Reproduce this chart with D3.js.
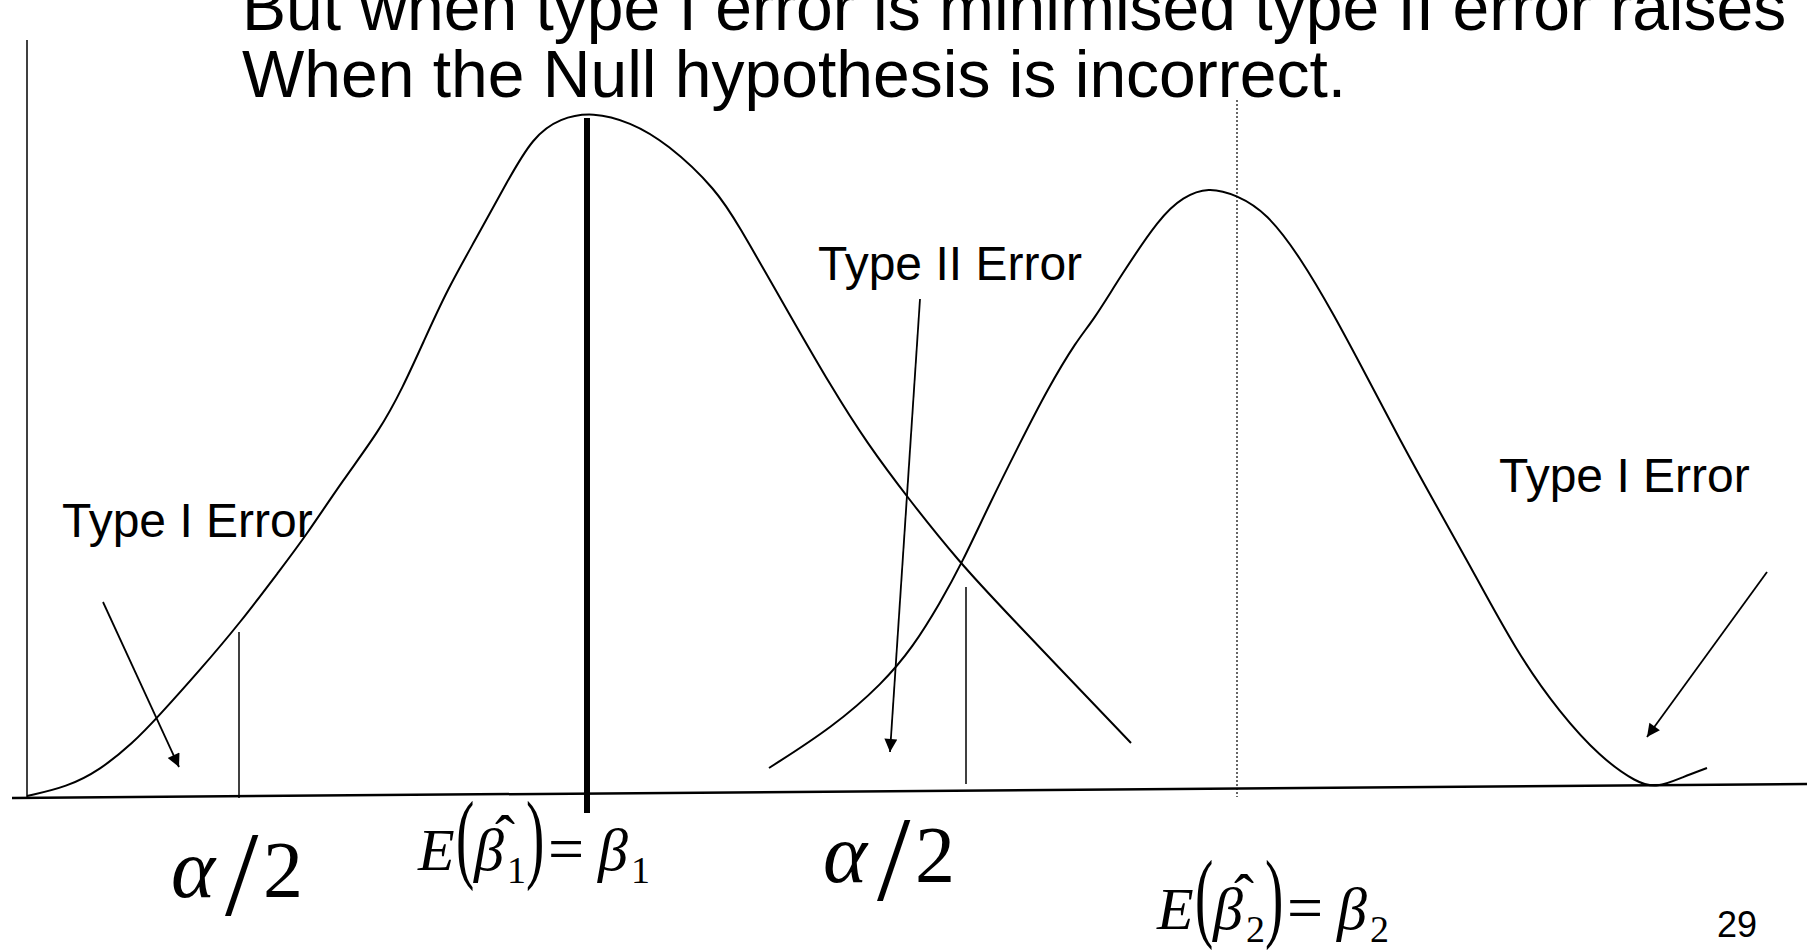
<!DOCTYPE html>
<html>
<head>
<meta charset="utf-8">
<script src="https://cdn.jsdelivr.net/npm/d3@7"></script>
<style>
  body { margin: 0; background: #ffffff; overflow: hidden; }
</style>
</head>
<body>
<div id="my_dataviz"></div>
<script>
// sampled outlines of the two sampling distributions (slide units)
const nullCurve = [
  [27, 796], [67, 787], [100, 770], [133, 743], [157, 718], [200, 670], [240, 623],
  [280, 570], [305, 537], [343, 480], [380, 430], [403, 387], [423, 343], [447, 290],
  [477, 237], [508, 180], [533, 137], [560, 118], [593, 112], [630, 122], [667, 143],
  [717, 190], [740, 228], [770, 280], [783, 303], [833, 390], [867, 443], [907, 497],
  [960, 563], [1002, 608], [1131, 743]
];
const altCurve = [
  [769, 768], [833, 727], [883, 683], [913, 647], [940, 603], [962, 563], [990, 503],
  [1020, 443], [1047, 390], [1077, 340], [1093, 321], [1120, 277], [1160, 217],
  [1183, 197], [1208, 187], [1237, 195], [1267, 213], [1300, 257], [1333, 313],
  [1367, 377], [1400, 440], [1433, 500], [1467, 560], [1517, 653], [1560, 713],
  [1600, 757], [1637, 783], [1657, 788], [1683, 777], [1707, 768]
];

// [x, yTop, yBottom]
const critLines = [[239, 632, 798], [966, 587, 784]];
const meanLine = [587, 118, 813];
const altMeanLine = [1237, 100, 797];
const yAxisLine = [27, 40, 797];
const baseLine = [[12, 798], [1807, 784]];

// [from, to]
const arrows = [
  [[103, 602], [179, 767]],
  [[920, 299], [890, 752]],
  [[1767, 572], [1647, 737]]
];

const titleLines = [`But when type I error is minimised type II error raises`, `When the Null hypothesis is incorrect.`];
const errorLabels = [`Type I Error`, `Type II Error`, `Type I Error`];
const pageNumber = `29`;
const expectSubs = [`1`, `2`];

// Constant
const width = 1807;
const height = 951;
const sansFont = `"Liberation Sans", Arial, Helvetica, sans-serif`;
const serifFont = `"Liberation Serif", "Times New Roman", serif`;
const ink = `black`;

const xScale = d3.scaleLinear().domain([0, 1807]).range([0, width]);
const yScale = d3.scaleLinear().domain([0, 951]).range([0, height]);

const svg = d3.select(`#my_dataviz`)
  .append(`svg`)
    .attr(`width`, width)
    .attr(`height`, height);

svg.append(`defs`).append(`marker`)
  .attr(`id`, `head`)
  .attr(`viewBox`, `0 0 10 10`)
  .attr(`refX`, 10)
  .attr(`refY`, 5)
  .attr(`markerWidth`, 17)
  .attr(`markerHeight`, 13)
  .attr(`markerUnits`, `userSpaceOnUse`)
  .attr(`orient`, `auto`)
  .append(`path`)
    .attr(`d`, `M0,0 L10,5 L0,10 Z`)
    .attr(`fill`, ink);

// titles
const titleY = [30, 97];
svg.selectAll(`.title`)
  .data(titleLines)
  .enter()
  .append(`text`)
    .attr(`class`, `title`)
    .attr(`x`, xScale(242))
    .attr(`y`, (d, i) => yScale(titleY[i]))
    .style(`font-size`, `66px`)
    .style(`font-family`, sansFont)
    .attr(`fill`, ink)
    .text(d => d);

// axes
svg.append(`line`)
  .attr(`x1`, xScale(yAxisLine[0])).attr(`x2`, xScale(yAxisLine[0]))
  .attr(`y1`, yScale(yAxisLine[1])).attr(`y2`, yScale(yAxisLine[2]))
  .attr(`stroke`, ink).attr(`stroke-width`, 1.5);

svg.append(`line`)
  .attr(`x1`, xScale(baseLine[0][0])).attr(`y1`, yScale(baseLine[0][1]))
  .attr(`x2`, xScale(baseLine[1][0])).attr(`y2`, yScale(baseLine[1][1]))
  .attr(`stroke`, ink).attr(`stroke-width`, 2.5);

// distributions
const line = d3.line()
  .x(d => xScale(d[0]))
  .y(d => yScale(d[1]))
  .curve(d3.curveBasis);

svg.selectAll(`.dist`)
  .data([nullCurve, altCurve])
  .enter()
  .append(`path`)
    .attr(`class`, `dist`)
    .attr(`d`, line)
    .attr(`fill`, `none`)
    .attr(`stroke`, ink)
    .attr(`stroke-width`, 2);

// critical values
svg.selectAll(`.crit`)
  .data(critLines)
  .enter()
  .append(`line`)
    .attr(`class`, `crit`)
    .attr(`x1`, d => xScale(d[0])).attr(`x2`, d => xScale(d[0]))
    .attr(`y1`, d => yScale(d[1])).attr(`y2`, d => yScale(d[2]))
    .attr(`stroke`, ink).attr(`stroke-width`, 1.5);

svg.append(`line`)
  .attr(`x1`, xScale(meanLine[0])).attr(`x2`, xScale(meanLine[0]))
  .attr(`y1`, yScale(meanLine[1])).attr(`y2`, yScale(meanLine[2]))
  .attr(`stroke`, ink).attr(`stroke-width`, 6);

svg.append(`line`)
  .attr(`x1`, xScale(altMeanLine[0])).attr(`x2`, xScale(altMeanLine[0]))
  .attr(`y1`, yScale(altMeanLine[1])).attr(`y2`, yScale(altMeanLine[2]))
  .attr(`stroke`, ink).attr(`stroke-width`, 1.2)
  .style(`stroke-dasharray`, `2,2`);

// arrows
svg.selectAll(`.arrow`)
  .data(arrows)
  .enter()
  .append(`line`)
    .attr(`class`, `arrow`)
    .attr(`x1`, d => xScale(d[0][0])).attr(`y1`, d => yScale(d[0][1]))
    .attr(`x2`, d => xScale(d[1][0])).attr(`y2`, d => yScale(d[1][1]))
    .attr(`stroke`, ink).attr(`stroke-width`, 1.8)
    .attr(`marker-end`, `url(#head)`);

// error labels
const labelPos = [[62, 537], [818, 280], [1499, 492]];
svg.selectAll(`.errLabel`)
  .data(errorLabels)
  .enter()
  .append(`text`)
    .attr(`class`, `errLabel`)
    .attr(`x`, (d, i) => xScale(labelPos[i][0]))
    .attr(`y`, (d, i) => yScale(labelPos[i][1]))
    .style(`font-size`, `48px`)
    .style(`font-family`, sansFont)
    .attr(`fill`, ink)
    .text(d => d);

svg.append(`text`)
  .attr(`x`, xScale(1717))
  .attr(`y`, yScale(937))
  .style(`font-size`, `36px`)
  .style(`font-family`, sansFont)
  .attr(`fill`, ink)
  .text(pageNumber);

// alpha / 2
const drawHalfAlpha = (x0, y0) => {
  const g = svg.append(`g`)
    .attr(`transform`, `translate(${xScale(x0)},${yScale(y0)})`)
    .style(`font-family`, serifFont)
    .attr(`fill`, ink);
  g.append(`text`).attr(`x`, -4).attr(`y`, 0)
    .style(`font-size`, `84px`).style(`font-style`, `italic`).text(`\u03B1`);
  g.append(`text`).attr(`x`, 50).attr(`y`, 18)
    .style(`font-size`, `120px`).text(`/`);
  g.append(`text`).attr(`x`, 88).attr(`y`, 0)
    .style(`font-size`, `80px`).text(`2`);
};
drawHalfAlpha(175, 897);
drawHalfAlpha(827, 882);

// E(beta hat) = beta
const paren = (g, x, ch) => g.append(`text`)
  .attr(`transform`, `translate(${x},0) scale(0.55,1)`)
  .style(`font-size`, `100px`)
  .text(ch);

const drawExpect = (x0, y0, sub) => {
  const g = svg.append(`g`)
    .attr(`transform`, `translate(${xScale(x0)},${yScale(y0)})`)
    .style(`font-family`, serifFont)
    .attr(`fill`, ink);
  g.append(`text`).attr(`x`, 0).attr(`y`, 0)
    .style(`font-size`, `60px`).style(`font-style`, `italic`).text(`E`);
  paren(g, 38, `(`);
  g.append(`text`).attr(`x`, 56).attr(`y`, 0)
    .style(`font-size`, `60px`).style(`font-style`, `italic`).text(`\u03B2`);
  g.append(`text`).attr(`x`, 87).attr(`y`, -14)
    .attr(`text-anchor`, `middle`)
    .style(`font-size`, `60px`).text(`\u02C6`);
  g.append(`text`).attr(`x`, 89).attr(`y`, 13)
    .style(`font-size`, `38px`).text(sub);
  paren(g, 108, `)`);
  g.append(`text`).attr(`x`, 130).attr(`y`, 0)
    .style(`font-size`, `64px`).text(`=`);
  g.append(`text`).attr(`x`, 180).attr(`y`, 0)
    .style(`font-size`, `60px`).style(`font-style`, `italic`).text(`\u03B2`);
  g.append(`text`).attr(`x`, 213).attr(`y`, 13)
    .style(`font-size`, `38px`).text(sub);
};
drawExpect(418, 870, expectSubs[0]);
drawExpect(1157, 929, expectSubs[1]);
</script>
</body>
</html>
